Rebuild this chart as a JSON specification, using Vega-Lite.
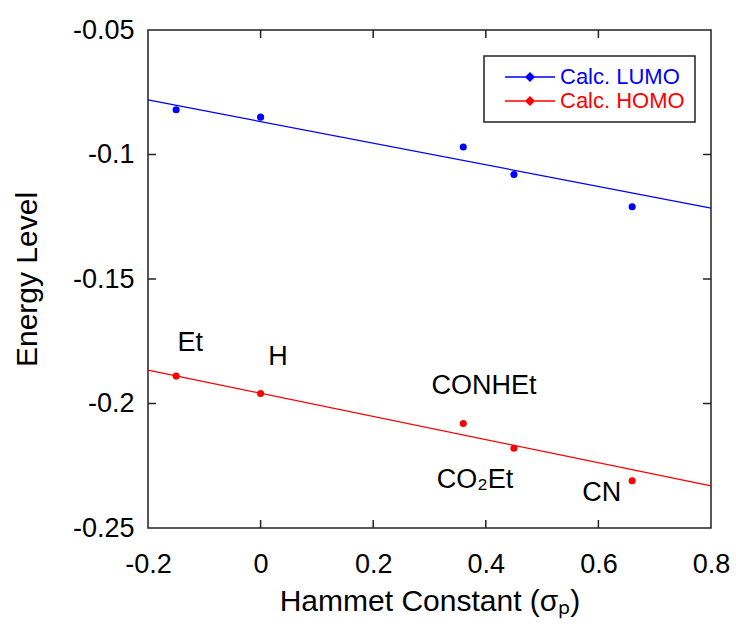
{
  "$schema": "https://vega.github.io/schema/vega-lite/v6.json",
  "width": 563,
  "height": 498,
  "autosize": {"type": "none"},
  "padding": {"left": 148, "top": 30, "right": 25, "bottom": 115},
  "background": "white",
  "config": {
    "view": {"stroke": "#222", "strokeWidth": 1.5},
    "font": "Liberation Sans",
    "axis": {
      "domain": false,
      "grid": false,
      "ticks": false,
      "labelColor": "#000",
      "titleColor": "#000",
      "labelFont": "Liberation Sans",
      "titleFont": "Liberation Sans",
      "titleFontWeight": "normal"
    }
  },
  "datasets": {
    "points": [
      {"series": "Calc. LUMO", "sigma": -0.15, "energy": -0.082},
      {"series": "Calc. LUMO", "sigma": 0.0, "energy": -0.085},
      {"series": "Calc. LUMO", "sigma": 0.36, "energy": -0.097},
      {"series": "Calc. LUMO", "sigma": 0.45, "energy": -0.108},
      {"series": "Calc. LUMO", "sigma": 0.66, "energy": -0.121},
      {"series": "Calc. HOMO", "sigma": -0.15, "energy": -0.189},
      {"series": "Calc. HOMO", "sigma": 0.0, "energy": -0.196},
      {"series": "Calc. HOMO", "sigma": 0.36, "energy": -0.208},
      {"series": "Calc. HOMO", "sigma": 0.45, "energy": -0.218},
      {"series": "Calc. HOMO", "sigma": 0.66, "energy": -0.231}
    ],
    "fits": [
      {"series": "Calc. LUMO", "sigma": -0.2, "energy": -0.0781},
      {"series": "Calc. LUMO", "sigma": 0.8, "energy": -0.1215},
      {"series": "Calc. HOMO", "sigma": -0.2, "energy": -0.1866},
      {"series": "Calc. HOMO", "sigma": 0.8, "energy": -0.2331}
    ],
    "labels": [
      {"label": "Et", "sigma": -0.125, "energy": -0.1757},
      {"label": "H", "sigma": 0.031, "energy": -0.1813},
      {"label": "CONHEt", "sigma": 0.397, "energy": -0.193},
      {"label": "CO₂Et", "sigma": 0.381, "energy": -0.2307},
      {"label": "CN", "sigma": 0.606, "energy": -0.236}
    ],
    "xticks": [
      {"sigma": 0, "energy": -0.25}, {"sigma": 0.2, "energy": -0.25}, {"sigma": 0.4, "energy": -0.25}, {"sigma": 0.6, "energy": -0.25},
      {"sigma": 0, "energy": -0.05}, {"sigma": 0.2, "energy": -0.05}, {"sigma": 0.4, "energy": -0.05}, {"sigma": 0.6, "energy": -0.05}
    ],
    "yticks": [
      {"sigma": -0.2, "energy": -0.2}, {"sigma": -0.2, "energy": -0.15}, {"sigma": -0.2, "energy": -0.1},
      {"sigma": 0.8, "energy": -0.2}, {"sigma": 0.8, "energy": -0.15}, {"sigma": 0.8, "energy": -0.1}
    ]
  },
  "layer": [
    {
      "data": {"name": "fits"},
      "mark": {"type": "line", "strokeWidth": 1.3},
      "encoding": {
        "x": {
          "field": "sigma", "type": "quantitative",
          "scale": {"domain": [-0.2, 0.8], "nice": false, "zero": false},
          "axis": {
            "orient": "bottom",
            "values": [-0.2, 0, 0.2, 0.4, 0.6, 0.8],
            "labelExpr": "replace(format(datum.value, '.1~f'), '\u2212', '-')",
            "labelFontSize": 27,
            "labelPadding": 23,
            "labelFlush": false,
            "title": "Hammet Constant (σₚ)",
            "titleFontSize": 30,
            "titlePadding": 9
          }
        },
        "y": {
          "field": "energy", "type": "quantitative",
          "scale": {"domain": [-0.25, -0.05], "nice": false, "zero": false},
          "axis": {
            "orient": "left",
            "values": [-0.25, -0.2, -0.15, -0.1, -0.05],
            "labelExpr": "replace(format(datum.value, '.2~f'), '\u2212', '-')",
            "labelFontSize": 27,
            "labelPadding": 14,
            "labelFlush": false,
            "title": "Energy Level",
            "titleFontSize": 30,
            "titlePadding": 30
          }
        },
        "color": {
          "field": "series", "type": "nominal",
          "scale": {"domain": ["Calc. LUMO", "Calc. HOMO"], "range": ["#0000ff", "#ff0000"]},
          "legend": {
            "orient": "none",
            "legendX": 336,
            "legendY": 26,
            "title": null,
            "direction": "vertical",
            "strokeColor": "#222",
            "fillColor": "white",
            "padding": 10,
            "symbolType": "M-5,0H5M0,-0.8L0.8,0L0,0.8L-0.8,0Z",
            "symbolSize": 100,
            "symbolStrokeWidth": 1.5,
            "symbolOffset": 25,
            "labelOffset": 19,
            "labelFontSize": 22,
            "labelFont": "Liberation Sans",
            "rowPadding": 2,
            "encode": {
              "legend": {"update": {"strokeWidth": {"value": 1.5}}},
              "labels": {"update": {"fill": {"signal": "scale('color', datum.value)"}}},
              "symbols": {"update": {
                "stroke": {"signal": "scale('color', datum.value)"},
                "fill": {"signal": "scale('color', datum.value)"},
                "opacity": {"value": 1}
              }}
            }
          }
        }
      }
    },
    {
      "data": {"name": "xticks"},
      "mark": {"type": "tick", "orient": "vertical", "size": 16, "thickness": 1.5, "color": "#222", "opacity": 1, "clip": true},
      "encoding": {
        "x": {"field": "sigma", "type": "quantitative"},
        "y": {"field": "energy", "type": "quantitative"}
      }
    },
    {
      "data": {"name": "yticks"},
      "mark": {"type": "tick", "orient": "horizontal", "size": 16, "thickness": 1.5, "color": "#222", "opacity": 1, "clip": true},
      "encoding": {
        "x": {"field": "sigma", "type": "quantitative"},
        "y": {"field": "energy", "type": "quantitative"}
      }
    },
    {
      "data": {"name": "points"},
      "mark": {"type": "point", "filled": true, "shape": "circle", "size": 50, "opacity": 1},
      "encoding": {
        "x": {"field": "sigma", "type": "quantitative"},
        "y": {"field": "energy", "type": "quantitative"},
        "color": {"field": "series", "type": "nominal"}
      }
    },
    {
      "data": {"name": "labels"},
      "mark": {"type": "text", "fontSize": 27, "font": "Liberation Sans", "color": "#000", "align": "center", "baseline": "middle"},
      "encoding": {
        "x": {"field": "sigma", "type": "quantitative"},
        "y": {"field": "energy", "type": "quantitative"},
        "text": {"field": "label"}
      }
    }
  ]
}
